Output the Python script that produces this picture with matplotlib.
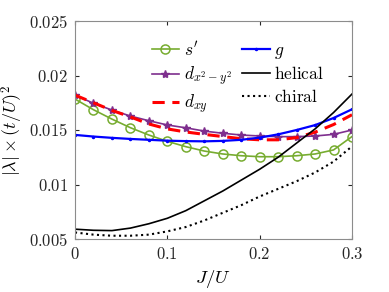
import matplotlib as mpl
import matplotlib.pyplot as plt
import numpy as np

mpl.rcParams['mathtext.fontset'] = 'cm'
mpl.rcParams['font.family'] = 'serif'
mpl.rcParams['font.serif'] = ['DejaVu Serif']

J = [0, 0.02, 0.04, 0.06, 0.08, 0.10, 0.12, 0.14, 0.16, 0.18, 0.20, 0.22, 0.24, 0.26, 0.28, 0.30]
s_prime = [0.01784, 0.01686, 0.0160, 0.01521, 0.01454, 0.01396, 0.01347, 0.01307, 0.0128, 0.01264,
           0.01255, 0.01255, 0.01264, 0.0128, 0.01317, 0.0144]
d_x2y2 = [0.0182, 0.01745, 0.01683, 0.01628, 0.01585, 0.01546, 0.0152, 0.0149, 0.0147, 0.01454,
          0.01445, 0.01439, 0.01439, 0.01445, 0.0146, 0.0150]
d_xy = [0.0182, 0.0175, 0.0168, 0.0162, 0.01555, 0.0151, 0.01482, 0.0146, 0.0144, 0.0142,
        0.0141, 0.0141, 0.0143, 0.0148, 0.0155, 0.0164]
g = [0.01455, 0.0144, 0.01428, 0.01418, 0.0141, 0.01402, 0.01398, 0.01396, 0.014, 0.0141,
     0.0143, 0.0146, 0.01500, 0.01545, 0.0161, 0.0169]
helical = [0.0059, 0.0058, 0.00577, 0.0060, 0.0064, 0.0069, 0.0076, 0.0085, 0.0094, 0.0104,
           0.0114, 0.0125, 0.0138, 0.0151, 0.0166, 0.0183]
chiral = [0.0056, 0.0054, 0.0053, 0.0053, 0.0054, 0.0057, 0.0061, 0.0067, 0.0074, 0.0081,
          0.0089, 0.0096, 0.0103, 0.0111, 0.0121, 0.0135]

xticks = [0, 0.1, 0.2, 0.3]
xlabels = ['0', '0.1', '0.2', '0.3']
yticks = [0.005, 0.01, 0.015, 0.02, 0.025]
ylabels = ['0.005', '0.01', '0.015', '0.02', '0.025']

fig = plt.figure(figsize=(3.89, 2.92), dpi=100)
ax = fig.add_axes([75 / 389, 1 - 239 / 292, 277 / 389, 218 / 292])

green = '#77AC30'
purple = '#7E2F8E'
l1, = ax.plot(J, s_prime, '-o', color=green, mfc='none', ms=6.5, lw=1.2, mew=1.1, label=r"$s'$")
l2, = ax.plot(J, d_x2y2, '-*', color=purple, ms=6, lw=1.2, label=r'$d_{x^2-y^2}$')
l3, = ax.plot(J, d_xy, '--', color='r', lw=2.2, dashes=(4, 2.5), label=r'$d_{xy}$')
l4, = ax.plot(J, g, '-', color='b', marker='.', ms=3, lw=1.6, label=r'$g$')
l5, = ax.plot(J, helical, '-', color='k', lw=1.2, label=r'$\mathrm{helical}$')
l6, = ax.plot(J, chiral, ':', color='k', lw=1.5, label=r'$\mathrm{chiral}$')

ax.set_xlim(0, 0.3)
ax.set_ylim(0.005, 0.025)
ax.set_xticks(xticks)
ax.set_xticklabels(['$' + s + '$' for s in xlabels])
ax.set_yticks(yticks)
ax.set_yticklabels(['$' + s + '$' for s in ylabels])
ax.tick_params(direction='in', length=3, labelsize=12, colors='#262626', pad=5,
               top=True, right=True)
for sp in ax.spines.values():
    sp.set_color('#8c8c8c')

ax.set_xlabel(r'$J/U$', fontsize=13.5, labelpad=4)
ax.set_ylabel(r'$|\lambda|\times(t/U)^2$', fontsize=13, labelpad=3)

ax.legend(handles=[l1, l2, l3, l4, l5, l6], ncol=2, frameon=False, fontsize=12.5,
          loc='upper left', bbox_to_anchor=(0.245, 0.95), handlelength=1.6,
          handletextpad=0.25, columnspacing=0.6, labelspacing=0.3, borderpad=0)

fig.savefig('out.png', dpi=100)
